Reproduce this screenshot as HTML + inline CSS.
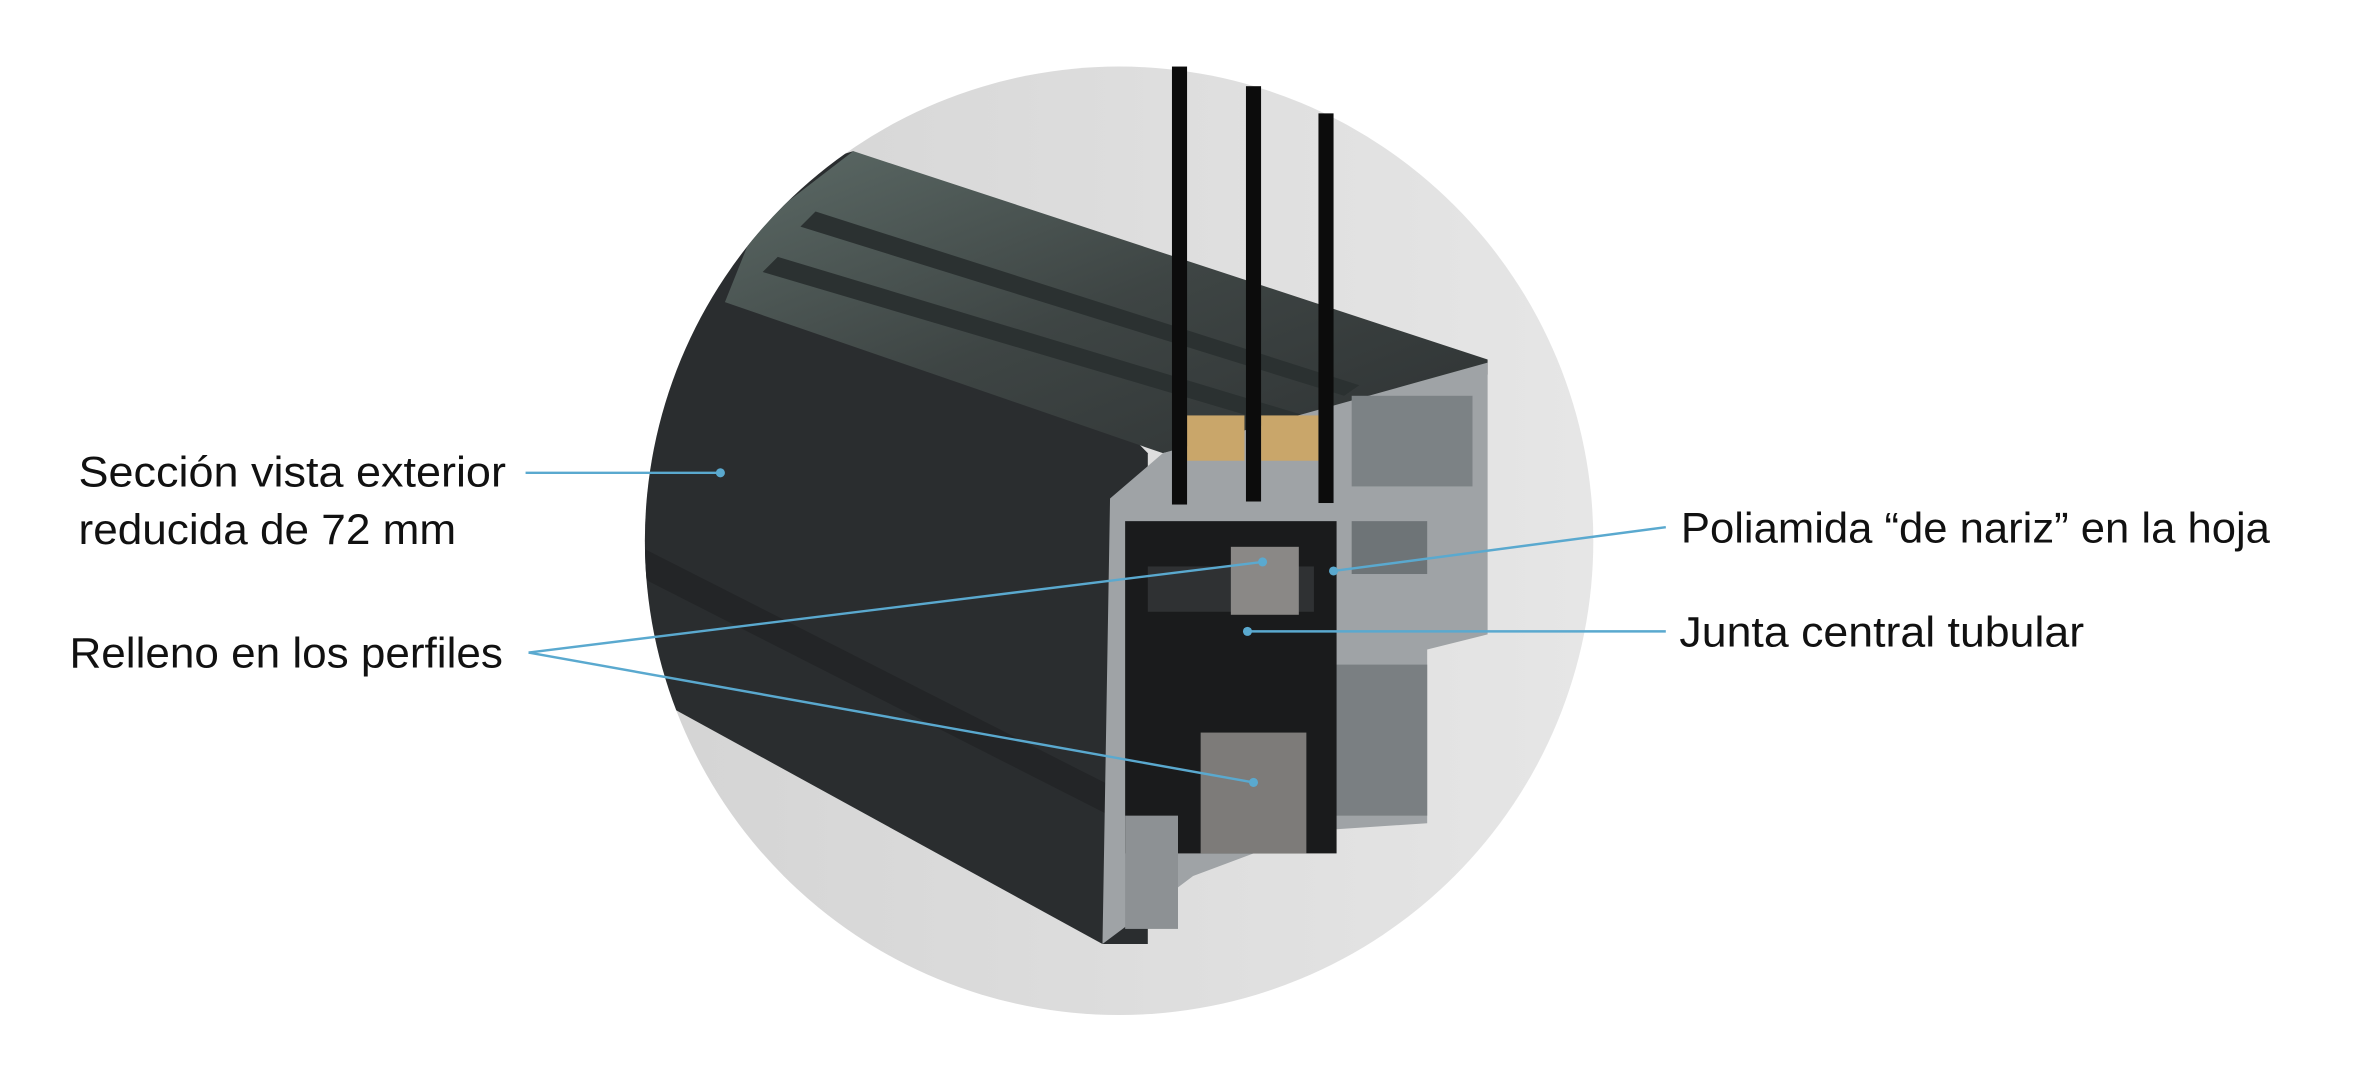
<!DOCTYPE html>
<html><head><meta charset="utf-8"><style>
html,body{margin:0;padding:0;background:#fff;width:2356px;height:1074px;overflow:hidden}
svg{display:block}
text{font-family:"Liberation Sans",sans-serif;font-size:28px;fill:#111}
</style></head><body>
<svg width="2356" height="1074" viewBox="0 0 1560 711" xmlns="http://www.w3.org/2000/svg">
<defs>
<linearGradient id="cg" x1="0" x2="1" y1="0" y2="0"><stop offset="0" stop-color="#d4d4d4"/><stop offset="1" stop-color="#e6e6e6"/></linearGradient>
<linearGradient id="tg" x1="0" x2="1" y1="0" y2="1"><stop offset="0" stop-color="#5c6a66"/><stop offset="0.5" stop-color="#3e4544"/><stop offset="1" stop-color="#2e3233"/></linearGradient>
<clipPath id="cc"><circle cx="741" cy="358" r="314"/></clipPath>
</defs>
<circle cx="741" cy="358" r="314" fill="url(#cg)"/>
<g clip-path="url(#cc)">
<polygon points="565,100 760,300 760,625 730,625 420,455 420,250 500,120" fill="#2a2d2f"/>
<polygon points="420,360 735,520 735,540 420,380" fill="#232527"/>
<polygon points="565,100 985,238 985,248 770,300 480,200 500,150" fill="url(#tg)"/>
<polygon points="540,140 900,255 890,262 530,150" fill="#2b3131"/>
<polygon points="515,170 880,280 870,288 505,180" fill="#2b3131"/>
</g>
<polygon points="735,330 770,300 985,240 985,420 945,430 945,545 870,550 790,580 730,625" fill="#9fa3a6"/>
<rect x="895" y="262" width="80" height="60" fill="#7c8285"/>
<rect x="895" y="345" width="50" height="35" fill="#6e7477"/>
<rect x="880" y="440" width="65" height="100" fill="#7a7f82"/>
<rect x="745" y="345" width="140" height="220" fill="#1a1b1c"/>
<rect x="760" y="375" width="110" height="30" fill="#2f3133"/>
<rect x="815" y="362" width="45" height="45" fill="#8a8886"/>
<rect x="795" y="485" width="70" height="80" fill="#7d7b79"/>
<rect x="745" y="540" width="35" height="75" fill="#8d9194"/>
<rect x="786" y="275" width="38" height="30" fill="#c9a66a"/>
<rect x="835" y="275" width="38" height="30" fill="#c9a66a"/>
<rect x="776" y="44" width="10" height="290" fill="#0c0c0c"/>
<rect x="825" y="57" width="10" height="275" fill="#0c0c0c"/>
<rect x="873" y="75" width="10" height="258" fill="#0c0c0c"/>
<g stroke="#5aa9cf" stroke-width="1.6" fill="none">
<line x1="348" y1="313" x2="477" y2="313"/>
<line x1="350" y1="432" x2="836" y2="372"/>
<line x1="350" y1="432" x2="830" y2="518"/>
<line x1="1103" y1="349" x2="883" y2="378"/>
<line x1="1103" y1="418" x2="826" y2="418"/>
</g>
<g fill="#5aa9cf">
<circle cx="477" cy="313" r="3"/><circle cx="836" cy="372" r="3"/><circle cx="830" cy="518" r="3"/><circle cx="883" cy="378" r="3"/><circle cx="826" cy="418" r="3"/>
</g>
<text x="52" y="322" textLength="283" lengthAdjust="spacingAndGlyphs">Sección vista exterior</text>
<text x="52" y="360" textLength="250" lengthAdjust="spacingAndGlyphs">reducida de 72 mm</text>
<text x="46" y="442" textLength="287" lengthAdjust="spacingAndGlyphs">Relleno en los perfiles</text>
<text x="1113" y="359" textLength="390" lengthAdjust="spacingAndGlyphs">Poliamida “de nariz” en la hoja</text>
<text x="1112" y="428" textLength="268" lengthAdjust="spacingAndGlyphs">Junta central tubular</text>
</svg>
</body></html>
